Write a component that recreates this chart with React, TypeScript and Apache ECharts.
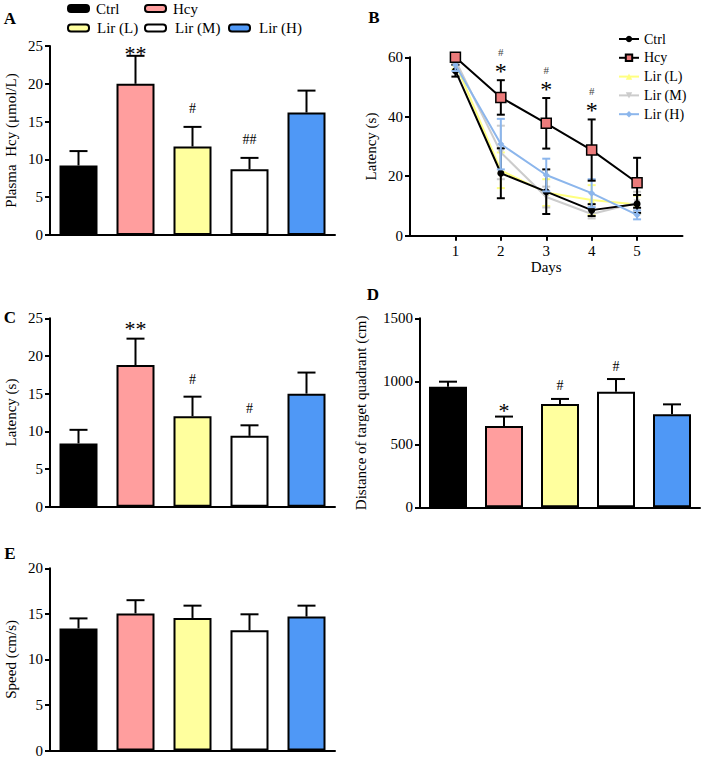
import React, { useEffect, useRef } from "react";
import * as echarts from "echarts";

const FONT = '"Liberation Serif", "Times New Roman", serif';

const groups = ["Ctrl", "Hcy", "Lir (L)", "Lir (M)", "Lir (H)"];
const barColors = ["#000000", "#ff9e9e", "#ffff9e", "#ffffff", "#4f98f6"];

// Panel A: plasma Hcy
const hcyMean = [9.2, 20.0, 11.7, 8.7, 16.2];
const hcyErr = [1.9, 3.7, 2.6, 1.5, 2.9];
const hcyMarks = ["", "**", "#", "##", ""];

// Panel C: latency
const latMean = [8.4, 18.8, 12.0, 9.4, 15.0];
const latErr = [1.8, 3.5, 2.6, 1.4, 2.8];
const latMarks = ["", "**", "#", "#", ""];

// Panel D: distance of target quadrant
const distMean = [957, 645, 820, 918, 738];
const distErr = [40, 75, 40, 100, 79];
const distMarks = ["", "*", "#", "#", ""];

// Panel E: speed
const speedMean = [13.4, 15.05, 14.55, 13.2, 14.7];
const speedErr = [1.1, 1.45, 1.35, 1.75, 1.2];
const speedMarks = ["", "", "", "", ""];

// Panel B: latency over days
const days = [1, 2, 3, 4, 5];
const ctrlB = [55.5, 21.0, 14.8, 8.6, 10.7];
const ctrlBErr = [2, 8.4, 7.5, 2, 3];
const hcyB = [60, 46.5, 37.8, 28.8, 17.8];
const hcyBErr = [1, 5.8, 8.5, 10.3, 8.4];
const lirLB = [58, 22, 14.5, 12, 10.5];
const lirLBErr = [2, 6, 4.5, 5, 3];
const lirMB = [59, 28, 13, 7.3, 11.1];
const lirMBErr = [1.5, 9, 3.5, 1.5, 3.7];
const lirHB = [57.4, 30.8, 20.4, 14.3, 7];
const lirHBErr = [2, 8.5, 5.5, 4.7, 1.5];
const starB = ["", "*", "*", "*", ""];
const hashB = ["", "#", "#", "#", ""];

const axisLineStyle = { color: "#000", width: 2 };

function barXAxis(gridIndex: number) {
  return {
    gridIndex,
    type: "category",
    data: groups,
    axisLine: { lineStyle: axisLineStyle },
    axisTick: { alignWithLabel: true, length: 5, lineStyle: axisLineStyle },
    axisLabel: { show: false },
    splitLine: { show: false },
  };
}

function valYAxis(gridIndex: number, max: number, interval: number, name: string, nameGap: number) {
  return {
    gridIndex,
    type: "value",
    min: 0,
    max,
    interval,
    name,
    nameLocation: "middle",
    nameGap,
    nameTextStyle: { fontFamily: FONT, fontSize: 15, color: "#000" },
    axisLine: { show: true, lineStyle: axisLineStyle },
    axisTick: { show: true, length: 5, lineStyle: axisLineStyle },
    axisLabel: { margin: 7, fontFamily: FONT, fontSize: 15, color: "#000", formatter: (v: number) => String(v) },
    splitLine: { show: false },
  };
}

function barSeries(idx: number, mean: number[]) {
  return {
    type: "bar",
    name: "bars" + idx,
    xAxisIndex: idx,
    yAxisIndex: idx,
    barWidth: 38,
    itemStyle: { borderColor: "#000", borderWidth: 2 },
    data: mean.map((v, i) => ({ value: v, itemStyle: { color: barColors[i] } })),
    z: 2,
  };
}

function barErrSeries(idx: number, mean: number[], err: number[], marks: string[], starOff: number, hashOff: number) {
  return {
    type: "custom",
    name: "err" + idx,
    xAxisIndex: idx,
    yAxisIndex: idx,
    z: 3,
    data: mean.map((m, i) => [i, m, m + err[i]]),
    renderItem: (params: any, api: any) => {
      const x = api.value(0);
      const p0 = api.coord([x, api.value(1)]);
      const p1 = api.coord([x, api.value(2)]);
      const half = 9;
      const children: any[] = [
        { type: "line", shape: { x1: p0[0], y1: p0[1], x2: p1[0], y2: p1[1] }, style: { stroke: "#000", lineWidth: 2 } },
        { type: "line", shape: { x1: p1[0] - half, y1: p1[1], x2: p1[0] + half, y2: p1[1] }, style: { stroke: "#000", lineWidth: 2 } },
      ];
      const t = marks[params.dataIndex];
      if (t) {
        const isStar = t.indexOf("*") >= 0;
        const fs = isStar ? 22 : 14;
        const y = isStar ? p1[1] - starOff + 0.16 * fs : p1[1] - hashOff;
        children.push({
          type: "text",
          x: p1[0],
          y,
          style: { text: t, font: `${fs}px ${FONT}`, fill: "#000", textAlign: "center", textVerticalAlign: "middle" },
        });
      }
      return { type: "group", children };
    },
  };
}

function lineErrSeries(name: string, mean: number[], err: number[], color: string, z: number, withMarks: boolean) {
  return {
    type: "custom",
    name: name + " err",
    xAxisIndex: 1,
    yAxisIndex: 1,
    z,
    data: days.map((d, i) => [d, mean[i] - err[i], mean[i] + err[i]]),
    renderItem: (params: any, api: any) => {
      const x = api.value(0);
      const lo = api.coord([x, api.value(1)]);
      const hi = api.coord([x, api.value(2)]);
      const half = 4;
      const st = { stroke: color, lineWidth: 2 };
      const children: any[] = [
        { type: "line", shape: { x1: lo[0], y1: lo[1], x2: hi[0], y2: hi[1] }, style: st },
        { type: "line", shape: { x1: hi[0] - half, y1: hi[1], x2: hi[0] + half, y2: hi[1] }, style: st },
        { type: "line", shape: { x1: lo[0] - half, y1: lo[1], x2: lo[0] + half, y2: lo[1] }, style: st },
      ];
      if (withMarks) {
        const i = params.dataIndex;
        if (starB[i]) {
          children.push({
            type: "text",
            x: hi[0],
            y: hi[1] - 13 + 0.16 * 24,
            style: { text: starB[i], font: `24px ${FONT}`, fill: "#000000", textAlign: "center", textVerticalAlign: "middle" },
          });
        }
        if (hashB[i]) {
          children.push({
            type: "text",
            x: hi[0],
            y: hi[1] - 28,
            style: { text: hashB[i], font: `11px ${FONT}`, fill: "#444", textAlign: "center", textVerticalAlign: "middle" },
          });
        }
      }
      return { type: "group", children };
    },
  };
}

function lineSeries(name: string, mean: number[], color: string, symbol: string, size: number, z: number, extra: any = {}) {
  return {
    type: "line",
    name,
    xAxisIndex: 1,
    yAxisIndex: 1,
    z,
    symbol,
    symbolSize: size,
    lineStyle: { color: extra.lineColor || color, width: 2 },
    itemStyle: { color, borderColor: extra.borderColor || color, borderWidth: extra.borderWidth || 0 },
    symbolRotate: extra.rotate || 0,
    data: days.map((d, i) => [d, mean[i]]),
  };
}

function legendA() {
  const items = [
    { i: 0, x: 68, y: 8.5, tx: 96 },
    { i: 1, x: 145, y: 8.5, tx: 173 },
    { i: 2, x: 68, y: 28, tx: 97 },
    { i: 3, x: 145, y: 28, tx: 175 },
    { i: 4, x: 229, y: 28, tx: 259 },
  ];
  const els: any[] = [];
  items.forEach((it) => {
    els.push({
      type: "rect",
      shape: { x: it.x, y: it.y - 3.5, width: 21, height: 7, r: 3 },
      style: { fill: barColors[it.i], stroke: "#000", lineWidth: 2 },
    });
    els.push({
      type: "text",
      x: it.tx,
      y: it.y,
      style: { text: groups[it.i], font: `15px ${FONT}`, fill: "#000", textAlign: "left", textVerticalAlign: "middle" },
    });
  });
  return els;
}

function panelLetters() {
  const letters = [
    { t: "A", x: 10, y: 18 },
    { t: "B", x: 374, y: 17 },
    { t: "C", x: 10, y: 317 },
    { t: "D", x: 373, y: 294 },
    { t: "E", x: 10, y: 553 },
  ];
  return letters.map((l) => ({
    type: "text",
    x: l.x,
    y: l.y,
    style: { text: l.t, font: `bold 17px ${FONT}`, fill: "#000", textAlign: "center", textVerticalAlign: "middle" },
  }));
}

export default function App() {
  const ref = useRef<HTMLDivElement>(null);
  useEffect(() => {
    if (!ref.current) return;
    const chart = echarts.init(ref.current, null, { renderer: "svg" });
    const option: any = {
      animation: false,
      backgroundColor: "#fff",
      grid: [
        { left: 50, top: 46, width: 285, height: 189 },
        { left: 410, top: 57.3, width: 272.5, height: 178.4 },
        { left: 50, top: 318.3, width: 285, height: 188.4 },
        { left: 420, top: 318.3, width: 280, height: 189 },
        { left: 50, top: 568.3, width: 285, height: 182.4 },
      ],
      legend: {
        data: ["Ctrl", "Hcy", "Lir (L)", "Lir (M)", "Lir (H)"],
        orient: "vertical",
        left: 613,
        top: 27,
        itemWidth: 20,
        itemHeight: 8,
        itemGap: 4.8,
        textStyle: { fontFamily: FONT, fontSize: 14, color: "#000" },
        selectedMode: false,
      },
      xAxis: [
        barXAxis(0),
        {
          gridIndex: 1,
          type: "value",
          min: 0,
          max: 6,
          interval: 1,
          name: "Days",
          nameLocation: "middle",
          nameGap: 24,
          nameTextStyle: { fontFamily: FONT, fontSize: 15, color: "#000" },
          axisLine: { lineStyle: axisLineStyle },
          axisTick: { length: 5, lineStyle: axisLineStyle, customValues: days },
          axisLabel: { margin: 8, fontFamily: FONT, fontSize: 15, color: "#000", customValues: days },
          splitLine: { show: false },
        },
        barXAxis(2),
        barXAxis(3),
        barXAxis(4),
      ],
      yAxis: [
        valYAxis(0, 25, 5, "Plasma  Hcy (\u03bcmol/L)", 32),
        valYAxis(1, 60, 20, "Latency (s)", 32),
        valYAxis(2, 25, 5, "Latency (s)", 32),
        valYAxis(3, 1500, 500, "Distance of target quadrant (cm)", 52),
        valYAxis(4, 20, 5, "Speed (cm/s)", 32),
      ],
      graphic: [...legendA(), ...panelLetters()],
      series: [
        barSeries(0, hcyMean),
        barErrSeries(0, hcyMean, hcyErr, hcyMarks, 6, 18),
        barSeries(2, latMean),
        barErrSeries(2, latMean, latErr, latMarks, 14, 17),
        barSeries(3, distMean),
        barErrSeries(3, distMean, distErr, distMarks, 10, 13),
        barSeries(4, speedMean),
        barErrSeries(4, speedMean, speedErr, speedMarks, 6, 18),
        lineErrSeries("Lir (L)", lirLB, lirLBErr, "#ffff80", 2, false),
        lineSeries("Lir (L)", lirLB, "#ffff80", "triangle", 7, 2),
        lineErrSeries("Lir (M)", lirMB, lirMBErr, "#cccccc", 3, false),
        lineSeries("Lir (M)", lirMB, "#cccccc", "triangle", 7, 3, { rotate: 180 }),
        lineErrSeries("Ctrl", ctrlB, ctrlBErr, "#000000", 4, false),
        lineSeries("Ctrl", ctrlB, "#000000", "circle", 7, 4),
        lineErrSeries("Lir (H)", lirHB, lirHBErr, "#8cb6ec", 5, false),
        lineSeries("Lir (H)", lirHB, "#8cb6ec", "diamond", 7, 5),
        lineErrSeries("Hcy", hcyB, hcyBErr, "#000000", 6, true),
        lineSeries("Hcy", hcyB, "#ec7b7b", "rect", 10, 6, { lineColor: "#000", borderColor: "#000", borderWidth: 1.5 }),
      ],
    };
    chart.setOption(option);
    return () => chart.dispose();
  }, []);
  return (
    <div
      ref={ref}
      style={{ position: "absolute", left: 0, top: 0, width: 708, height: 758, background: "#fff" }}
    />
  );
}
